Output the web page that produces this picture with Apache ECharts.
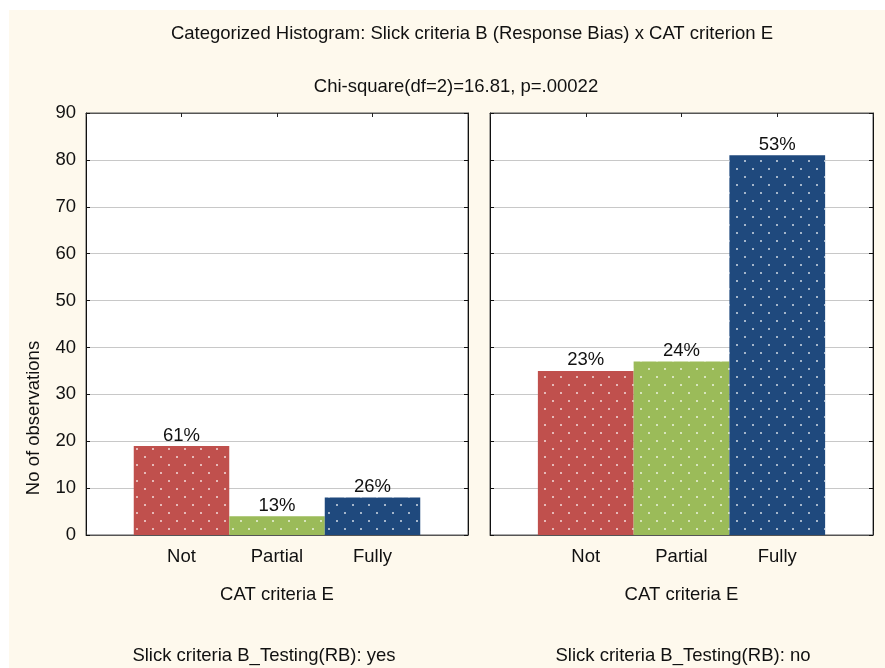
<!DOCTYPE html>
<html>
<head>
<meta charset="utf-8">
<script src="https://cdn.jsdelivr.net/npm/echarts@6/dist/echarts.min.js"></script>
<style>
    body { margin: 0; background: #fff; }
    .paper { position: absolute; left: 9px; top: 10px; width: 876px; height: 658px; background: #fef9ed; }
    #chart { position: absolute; left: 0; top: 0; width: 885px; height: 668px; }
</style>
</head>
<body>
<div class="paper"></div>
<div id="chart"></div>
<script>
// data
const categories = ['Not', 'Partial', 'Fully'];
const yesCounts = [19, 4, 8];
const yesPct = ['61%', '13%', '26%'];
const noCounts = [35, 37, 81];
const noPct = ['23%', '24%', '53%'];
const barColors = ['#c0504d', '#9bbb59', '#1f497d'];
const yTicks = { min: 0, max: 90, step: 10 };

const font = "'Liberation Sans', Arial, sans-serif";
const fs = 18.5;
const ink = '#111';

const dots = {
    symbol: 'circle',
    symbolSize: 1,
    color: 'rgba(255, 255, 255, 0.8)',
    dashArrayX: [[2, 14], [0, 8, 2, 6]],
    dashArrayY: [2, 6]
};

function toBars(counts) {
    return counts.map((v, i) => ({
        value: [i, v],
        itemStyle: { color: barColors[i], decal: dots }
    }));
}

function xAxisFor(gridIndex, top) {
    return {
        type: 'value',
        gridIndex: gridIndex,
        position: top ? 'top' : 'bottom',
        min: -1,
        max: 3,
        interval: 1,
        name: top ? '' : 'CAT criteria E',
        nameLocation: 'middle',
        nameGap: 50,
        nameTextStyle: { color: ink, fontSize: fs, fontFamily: font },
        axisLine: { show: true, onZero: false, lineStyle: { color: '#555' } },
        axisTick: { show: true, inside: true, length: 4, lineStyle: { color: '#222' } },
        axisLabel: {
            show: !top,
            color: ink,
            fontSize: fs,
            fontFamily: font,
            margin: 12,
            formatter: v => categories[v] || ''
        },
        splitLine: { show: false }
    };
}

function yAxisFor(gridIndex, right, labels) {
    return {
        type: 'value',
        gridIndex: gridIndex,
        position: right ? 'right' : 'left',
        min: yTicks.min,
        max: yTicks.max,
        interval: yTicks.step,
        axisLine: { show: true, onZero: false, lineStyle: { color: '#111' } },
        axisTick: { show: true, inside: true, length: 4, lineStyle: { color: '#111' } },
        axisLabel: { show: labels, color: ink, fontSize: fs, fontFamily: font, margin: 10 },
        splitLine: { show: !right, lineStyle: { color: '#c8c8c8' } }
    };
}

function barSeries(idx, counts, pct) {
    return {
        type: 'bar',
        xAxisIndex: idx * 2,
        yAxisIndex: idx * 2,
        barWidth: '100%',
        data: toBars(counts),
        label: {
            show: true,
            position: 'top',
            distance: 1,
            color: ink,
            fontSize: fs,
            fontFamily: font,
            formatter: p => pct[p.dataIndex]
        }
    };
}

const chart = echarts.init(document.getElementById('chart'));

chart.setOption({
    backgroundColor: 'transparent',
    animation: false,
    grid: [
        { left: 86, top: 113, width: 382, height: 422, show: true, backgroundColor: '#fff', borderColor: '#555', borderWidth: 1 },
        { left: 490, top: 113, width: 383, height: 422, show: true, backgroundColor: '#fff', borderColor: '#555', borderWidth: 1 }
    ],
    xAxis: [xAxisFor(0, false), xAxisFor(0, true), xAxisFor(1, false), xAxisFor(1, true)],
    yAxis: [yAxisFor(0, false, true), yAxisFor(0, true, false), yAxisFor(1, false, false), yAxisFor(1, true, false)],
    series: [barSeries(0, yesCounts, yesPct), barSeries(1, noCounts, noPct)],
    graphic: [
        {
            type: 'text', x: 472, y: 34,
            style: { text: 'Categorized Histogram: Slick criteria B (Response Bias) x CAT criterion E', fill: ink, font: fs + 'px ' + font, align: 'center', verticalAlign: 'middle' }
        },
        {
            type: 'text', x: 456, y: 87,
            style: { text: 'Chi-square(df=2)=16.81, p=.00022', fill: ink, font: fs + 'px ' + font, align: 'center', verticalAlign: 'middle' }
        },
        {
            type: 'text', x: 34, y: 418, rotation: Math.PI / 2,
            style: { text: 'No of observations', fill: ink, font: fs + 'px ' + font, align: 'center', verticalAlign: 'middle' }
        },
        {
            type: 'text', x: 264, y: 656,
            style: { text: 'Slick criteria B_Testing(RB): yes', fill: ink, font: fs + 'px ' + font, align: 'center', verticalAlign: 'middle' }
        },
        {
            type: 'text', x: 683, y: 656,
            style: { text: 'Slick criteria B_Testing(RB): no', fill: ink, font: fs + 'px ' + font, align: 'center', verticalAlign: 'middle' }
        }
    ]
});
</script>
</body>
</html>
